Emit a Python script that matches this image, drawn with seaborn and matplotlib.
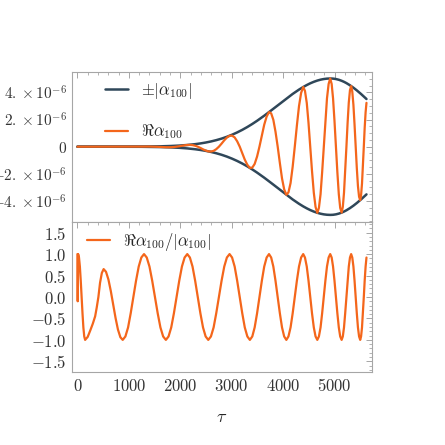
import matplotlib
matplotlib.use("Agg")
import matplotlib.pyplot as plt
from matplotlib.ticker import MultipleLocator
import seaborn as sns
import pandas as pd
import numpy as np

# Values
# tau samples: extrema, zero crossings and points in between (one row per half-oscillation)
tau = [
    0, 6, 14,
    31, 48, 65, 82, 99, 116, 133, 150,
    200, 250, 300, 345, 375, 408, 440, 475, 510,
    556, 603, 649, 696, 742, 788, 835, 881,
    933, 985, 1036, 1088, 1140, 1192, 1243, 1295,
    1348, 1401, 1454, 1508, 1561, 1614, 1667, 1720,
    1772, 1824, 1876, 1928, 1980, 2032, 2084, 2136,
    2187, 2238, 2289, 2340, 2391, 2442, 2493, 2544,
    2596, 2648, 2699, 2751, 2803, 2855, 2906, 2958,
    3007, 3057, 3106, 3156, 3205, 3254, 3304, 3353,
    3400, 3446, 3493, 3539, 3586, 3632, 3679, 3725,
    3767, 3809, 3851, 3894, 3936, 3978, 4020, 4062,
    4103, 4144, 4185, 4226, 4267, 4308, 4349, 4390,
    4424, 4459, 4493, 4527, 4561, 4596, 4630, 4664,
    4695, 4727, 4758, 4790, 4821, 4852, 4884, 4915,
    4943, 4970, 4998, 5026, 5054, 5082, 5109, 5137,
    5160, 5183, 5206, 5230, 5253, 5276, 5299, 5322,
    5344, 5366, 5388, 5410, 5432, 5454, 5476, 5498,
    5515, 5533, 5550, 5568, 5585, 5603, 5620,
]

# Re(alpha_100) / |alpha_100|  (bottom panel)
ratio = [
    1.0, -0.1, 1.0,
    0.92, 0.71, 0.38, 0.0, -0.38, -0.71, -0.92, -1.0,
    -0.93, -0.78, -0.62, -0.45, -0.25, 0.0, 0.33, 0.56, 0.65,
    0.587, 0.408, 0.141, -0.175, -0.491, -0.758, -0.937, -1.0,
    -0.92, -0.71, -0.38, 0.0, 0.38, 0.71, 0.92, 1.0,
    0.92, 0.71, 0.38, 0.0, -0.38, -0.71, -0.92, -1.0,
    -0.92, -0.71, -0.38, 0.0, 0.38, 0.71, 0.92, 1.0,
    0.92, 0.71, 0.38, 0.0, -0.38, -0.71, -0.92, -1.0,
    -0.92, -0.71, -0.38, 0.0, 0.38, 0.71, 0.92, 1.0,
    0.92, 0.71, 0.38, 0.0, -0.38, -0.71, -0.92, -1.0,
    -0.92, -0.71, -0.38, 0.0, 0.38, 0.71, 0.92, 1.0,
    0.92, 0.71, 0.38, 0.0, -0.38, -0.71, -0.92, -1.0,
    -0.92, -0.71, -0.38, 0.0, 0.38, 0.71, 0.92, 1.0,
    0.92, 0.71, 0.38, 0.0, -0.38, -0.71, -0.92, -1.0,
    -0.92, -0.71, -0.38, 0.0, 0.38, 0.71, 0.92, 1.0,
    0.92, 0.71, 0.38, 0.0, -0.38, -0.71, -0.92, -1.0,
    -0.92, -0.71, -0.38, 0.0, 0.38, 0.71, 0.92, 1.0,
    0.92, 0.71, 0.38, 0.0, -0.38, -0.71, -0.92, -1.0,
    -0.92, -0.71, -0.38, 0.0, 0.38, 0.71, 0.92,
]

# |alpha_100| in units of 1e-6 (top panel envelope)
env = [
    0.0, 0.0, 0.0,
    0.0, 0.0, 0.0, 0.0, 0.0, 0.0, 0.0, 0.0,
    0.0, 0.0, 0.0, 0.0, 0.0, 0.0, 0.0, 0.0, 0.0,
    0.001, 0.001, 0.001, 0.001, 0.002, 0.002, 0.002, 0.002,
    0.003, 0.003, 0.004, 0.005, 0.006, 0.007, 0.008, 0.010,
    0.011, 0.014, 0.016, 0.020, 0.023, 0.028, 0.033, 0.038,
    0.045, 0.053, 0.061, 0.071, 0.082, 0.095, 0.109, 0.126,
    0.144, 0.164, 0.187, 0.212, 0.240, 0.271, 0.305, 0.343,
    0.385, 0.431, 0.481, 0.536, 0.595, 0.661, 0.729, 0.805,
    0.881, 0.963, 1.050, 1.143, 1.239, 1.341, 1.450, 1.561,
    1.673, 1.786, 1.906, 2.027, 2.153, 2.281, 2.413, 2.545,
    2.668, 2.791, 2.915, 3.043, 3.168, 3.292, 3.415, 3.537,
    3.655, 3.770, 3.883, 3.992, 4.098, 4.201, 4.299, 4.392,
    4.466, 4.537, 4.603, 4.665, 4.721, 4.775, 4.823, 4.866,
    4.901, 4.932, 4.958, 4.980, 4.997, 5.009, 5.017, 5.020,
    5.018, 5.011, 4.998, 4.979, 4.955, 4.925, 4.891, 4.850,
    4.813, 4.773, 4.729, 4.680, 4.629, 4.576, 4.520, 4.461,
    4.402, 4.341, 4.278, 4.212, 4.145, 4.076, 4.005, 3.933,
    3.876, 3.815, 3.757, 3.694, 3.634, 3.570, 3.509,
]

top_ticks = [-4e-6, -2e-6, 0, 2e-6, 4e-6]
top_labels = [r"$-4.\times10^{-6}$", r"$-2.\times10^{-6}$", r"$0$",
              r"$2.\times10^{-6}$", r"$4.\times10^{-6}$"]
bottom_ticks = [-1.5, -1.0, -0.5, 0.0, 0.5, 1.0, 1.5]
bottom_labels = [r"$-1.5$", r"$-1.0$", r"$-0.5$", r"$0.0$", r"$0.5$", r"$1.0$", r"$1.5$"]
x_ticks = [0, 1000, 2000, 3000, 4000, 5000]
x_labels = [r"$0$", r"$1000$", r"$2000$", r"$3000$", r"$4000$", r"$5000$"]

df = pd.DataFrame({"tau": tau, "ratio": ratio, "env": np.array(env) * 1e-6})
df["re"] = df["env"] * df["ratio"]  # Re(alpha) = |alpha| * Re(alpha)/|alpha|
df["neg_env"] = -df["env"]

dark = "#2f4759"
orange = "#f4661b"

sns.set_theme(style="white")
plt.rcParams["mathtext.fontset"] = "cm"
plt.rcParams["axes.edgecolor"] = "#a6a6a6"
plt.rcParams["axes.linewidth"] = 0.8

fig = plt.figure(figsize=(4.45, 4.45), dpi=100)
ax1 = fig.add_axes([0.161, 0.5018, 0.6755, 0.3371])
ax2 = fig.add_axes([0.161, 0.1634, 0.6755, 0.3384], sharex=ax1)

# top panel
sns.lineplot(data=df, x="tau", y="env", ax=ax1, color=dark, lw=1.8, label=r"$\pm|\alpha_{100}|$")
sns.lineplot(data=df, x="tau", y="neg_env", ax=ax1, color=dark, lw=1.8, label="_nolegend_")
sns.lineplot(data=df, x="tau", y="re", ax=ax1, color=orange, lw=1.6, label=r"$\Re\alpha_{100}$")
ax1.set_ylim(-5.52e-6, 5.52e-6)
ax1.set_yticks(top_ticks)
ax1.set_yticklabels(top_labels)
ax1.yaxis.set_minor_locator(MultipleLocator(0.5e-6))
ax1.set_xlabel("")
ax1.set_ylabel("")
ax1.tick_params(labelbottom=False)
ax1.legend(loc="upper left", frameon=False, fontsize=12, handlelength=1.4,
           labelspacing=1.3, bbox_to_anchor=(0.06, 1.04))

# bottom panel
sns.lineplot(data=df, x="tau", y="ratio", ax=ax2, color=orange, lw=1.6,
             label=r"$\Re\alpha_{100}/|\alpha_{100}|$")
ax2.set_ylim(-1.755, 1.755)
ax2.set_yticks(bottom_ticks)
ax2.set_yticklabels(bottom_labels)
ax2.yaxis.set_minor_locator(MultipleLocator(0.1))
ax2.set_xlim(-112, 5732)
ax2.set_xticks(x_ticks)
ax2.set_xticklabels(x_labels)
ax2.xaxis.set_minor_locator(MultipleLocator(200))
ax2.set_ylabel("")
ax2.set_xlabel(r"$\tau$", fontsize=13, labelpad=9)
ax2.legend(loc="upper left", frameon=False, fontsize=12, handlelength=1.4,
           bbox_to_anchor=(0.0, 1.04))

for ax in (ax1, ax2):
    ax.tick_params(which="both", direction="in", top=True, right=True,
                   color="#a6a6a6", labelsize=12, labelcolor="#333333")
    ax.tick_params(which="major", length=4, width=0.7)
    ax.tick_params(which="minor", length=2.2, width=0.6)
ax1.tick_params(axis="y", labelsize=11)

fig.savefig("out.png", dpi=100)
